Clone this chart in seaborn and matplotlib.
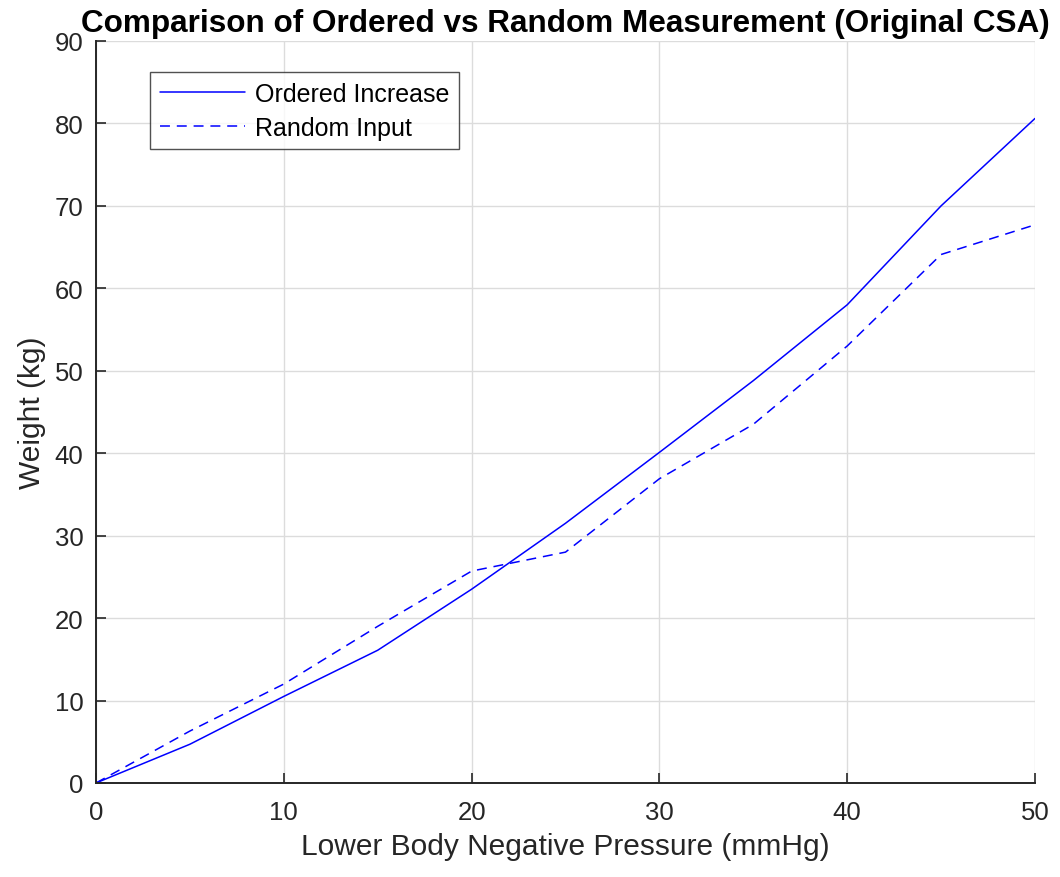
import pandas as pd
import matplotlib.pyplot as plt
import seaborn as sns

# LBNP levels and measured weight
pressure = [0, 5, 10, 15, 20, 25, 30, 35, 40, 45, 50]
ordered_weight = [0, 4.7, 10.5, 16.1, 23.5, 31.5, 40.1, 48.8, 58.0, 70.0, 80.6]
random_weight = [0, 6.3, 12.0, 19.0, 25.7, 28.0, 36.9, 43.5, 53.0, 64.1, 67.7]

df = pd.DataFrame({"Pressure": pressure, "Ordered": ordered_weight, "Random": random_weight})

sns.set_style("white")
plt.rcParams["font.family"] = ["Liberation Sans", "DejaVu Sans"]

fig = plt.figure(figsize=(10.6, 8.78), dpi=100)
ax = fig.add_axes([0.0906, 0.1071, 0.8858, 0.8451])

sns.lineplot(data=df, x="Pressure", y="Ordered", color="blue", linewidth=1.1,
             label="Ordered Increase", ax=ax)
sns.lineplot(data=df, x="Pressure", y="Random", color="blue", linewidth=1.1,
             linestyle=(0, (6.5, 4.5)), label="Random Input", ax=ax)

ax.set_xlim(0, 50)
ax.set_ylim(0, 90)
ax.set_xticks(range(0, 51, 10))
ax.set_yticks(range(0, 91, 10))
ax.grid(True, color="#dcdcdc", linewidth=1.0)
ax.tick_params(direction="in", length=7, width=1.2, labelsize=18.5, colors="#262626",
               top=False, right=False, left=True, bottom=True)
ax.tick_params(axis="x", pad=12)
ax.tick_params(axis="y", pad=9)
for s in ["top", "right"]:
    ax.spines[s].set_visible(False)
for s in ["left", "bottom"]:
    ax.spines[s].set_color("#262626")
    ax.spines[s].set_linewidth(1.4)

ax.set_xlabel("Lower Body Negative Pressure (mmHg)", fontsize=21.5, color="#262626", labelpad=6)
ax.set_ylabel("Weight (kg)", fontsize=21.5, color="#262626", labelpad=6)
ax.set_title("Comparison of Ordered vs Random Measurement (Original CSA)",
             fontsize=22.7, fontweight="bold", color="black", pad=7)

leg = ax.legend(loc="upper left", bbox_to_anchor=(0.058, 0.958), fontsize=18,
                frameon=True, fancybox=False, handlelength=3.4, borderpad=0.38,
                labelspacing=0.4, handletextpad=0.4, borderaxespad=0)
leg.get_frame().set_edgecolor("#262626")
leg.get_frame().set_linewidth(1.0)
for t in leg.get_texts():
    t.set_color("black")

plt.savefig("out.png", dpi=100)
